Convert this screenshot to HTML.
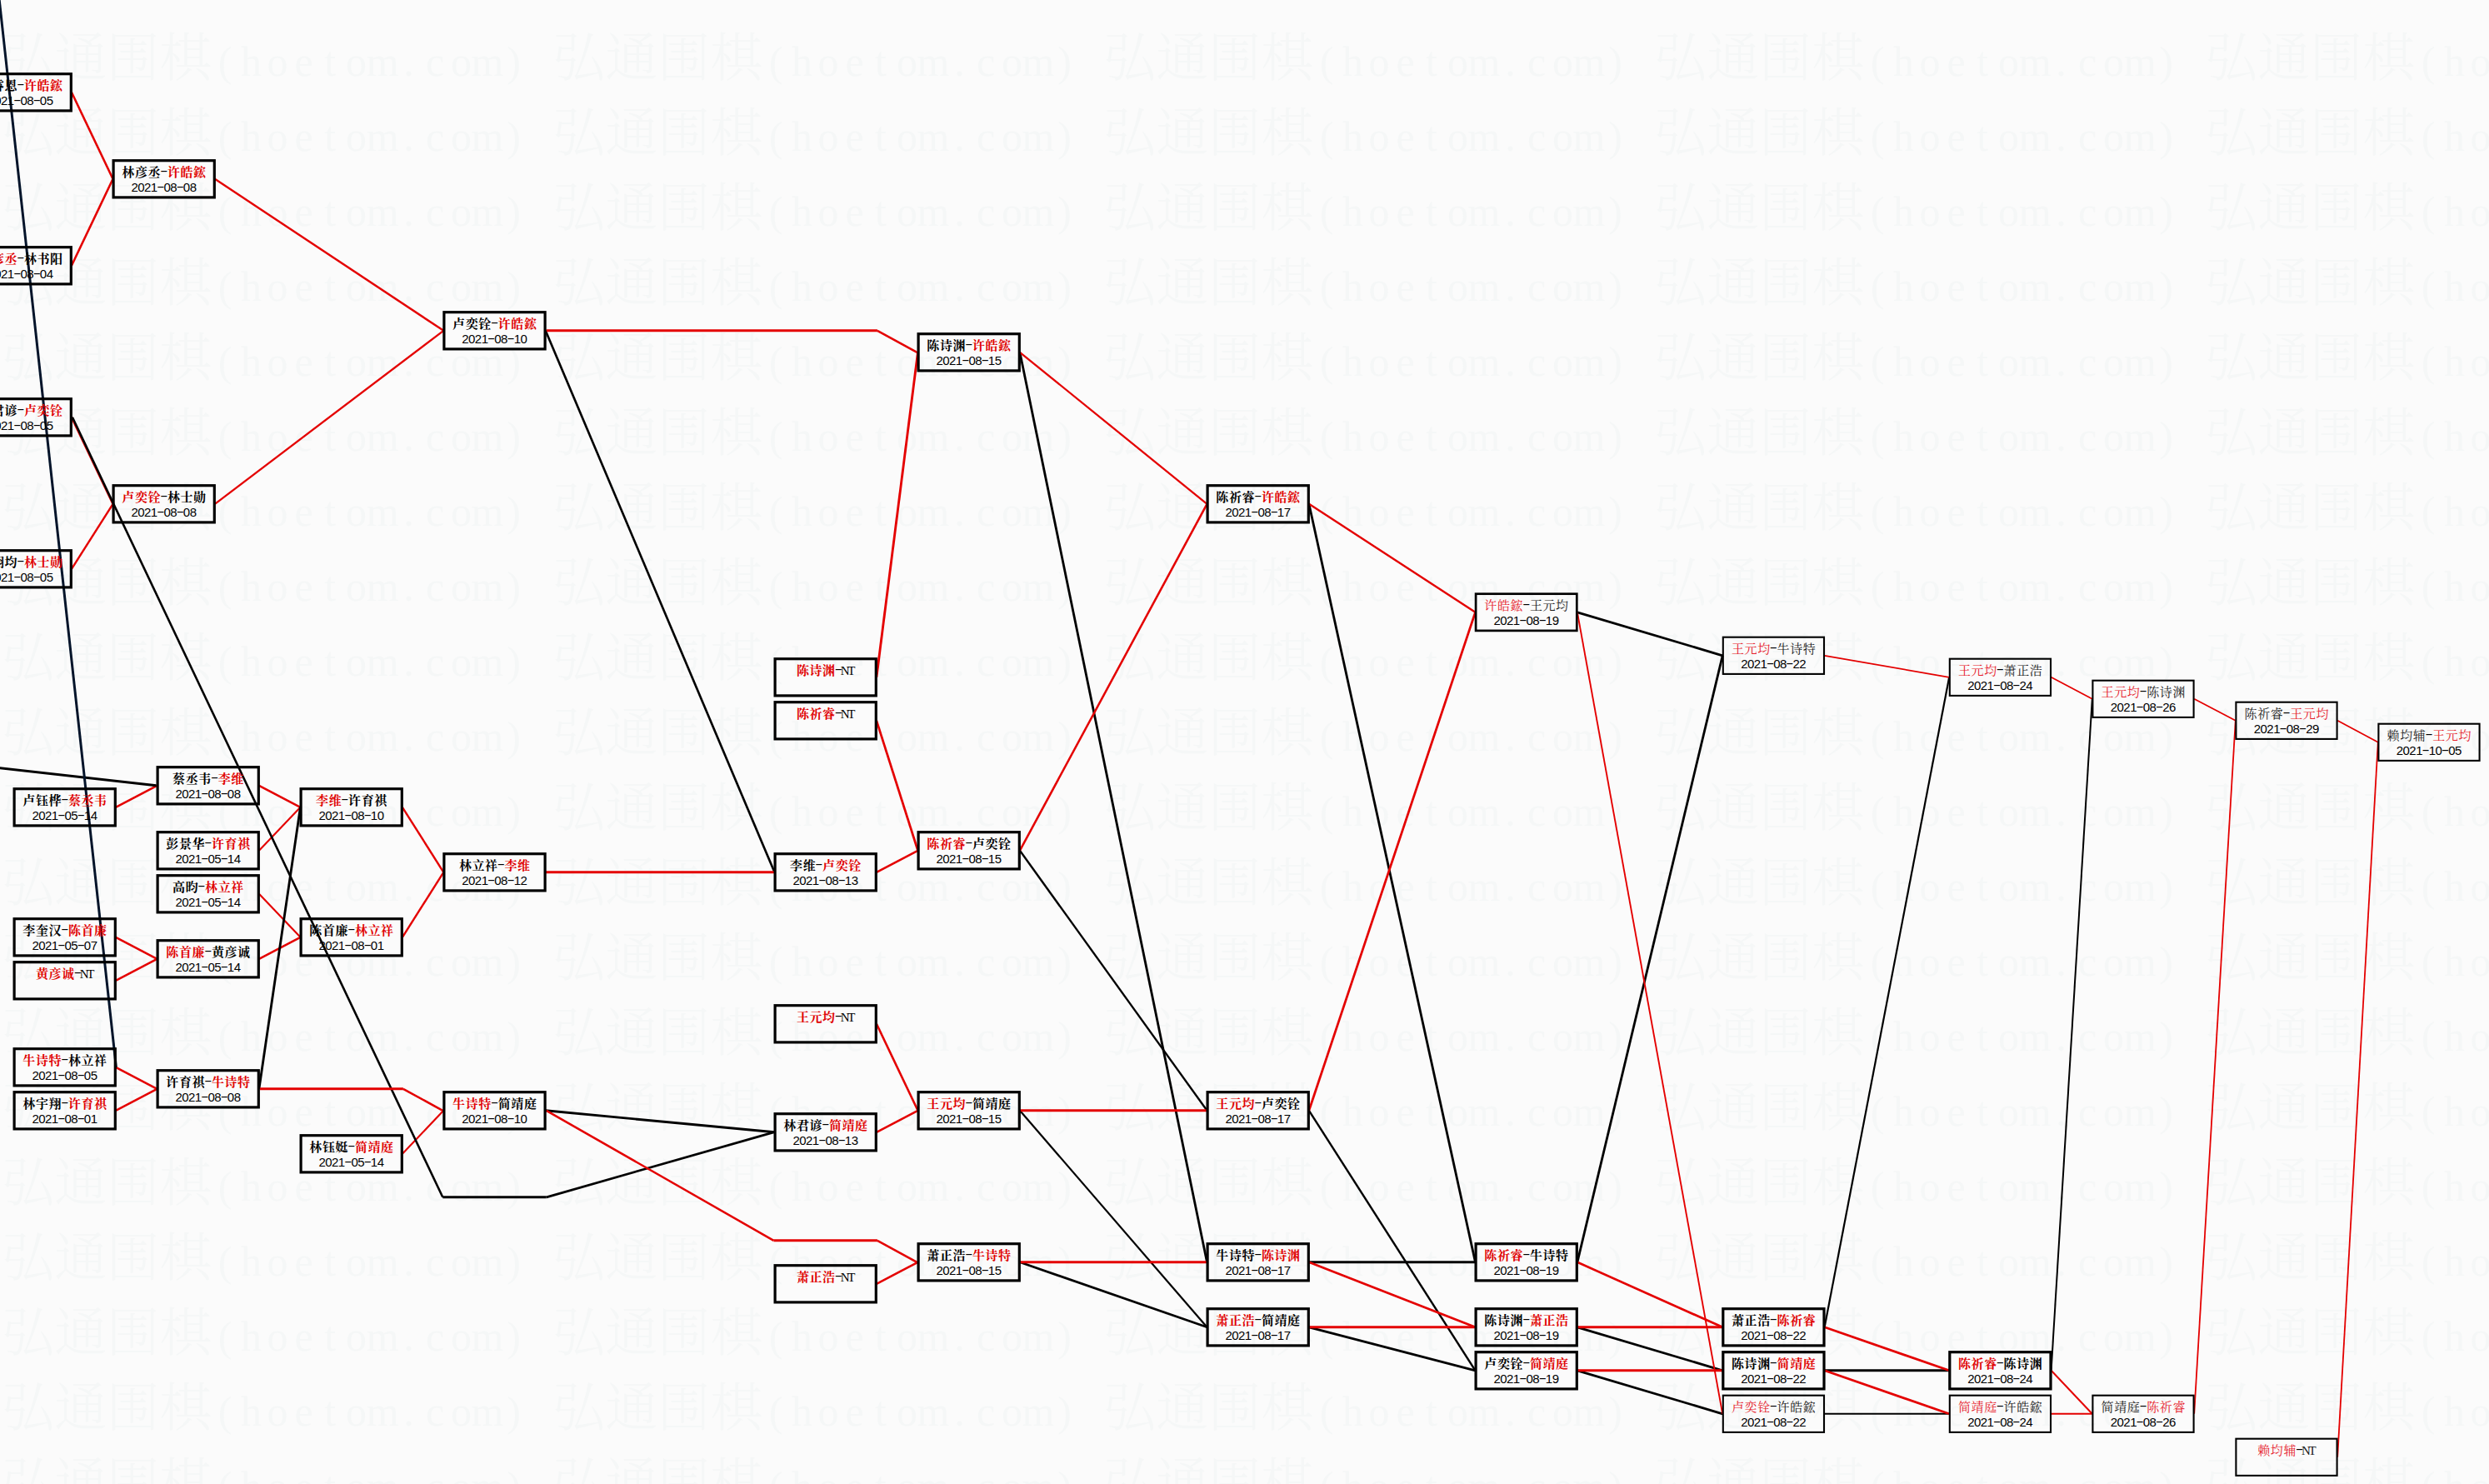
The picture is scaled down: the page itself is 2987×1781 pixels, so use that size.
<!DOCTYPE html>
<html lang="zh-CN"><head><meta charset="utf-8"><title>弘通围棋 对阵图</title>
<style>
html,body{margin:0;padding:0;background:#fbfbfb;}
body{width:2987px;height:1781px;overflow:hidden;}
svg{display:block;}
.wm{font-family:"Liberation Serif","Noto Serif CJK SC",serif;font-size:63px;font-weight:300;fill:#f5f7f7;text-anchor:middle;}
.wl{font-size:50px;font-weight:400;}
.hy{font-family:"Liberation Sans",sans-serif;font-weight:400;font-size:15.6px;text-anchor:middle;}
.nb{font-family:"Liberation Serif","Noto Serif CJK SC",serif;font-size:15px;font-weight:700;text-anchor:middle;}
.nr{font-family:"Liberation Serif","Noto Serif CJK SC",serif;font-size:15px;font-weight:400;text-anchor:middle;}
.dt{font-family:"Liberation Sans","Noto Sans CJK SC",sans-serif;font-size:15px;text-anchor:middle;}
.hw{text-anchor:middle;}
</style></head><body>
<svg width="2987" height="1781" viewBox="0 0 2987 1781">
<rect x="0" y="0" width="2987" height="1781" fill="#fbfbfb"/>
<g class="wm">
<text y="91.0"><tspan x="33.8 96.8 159.8 222.8">弘通围棋</tspan><tspan class="wl" x="270.1 301.6 333.1 364.6 396.1 427.6 459.1 490.6 522.0 553.5 585.0 616.5">(hoetom.com)</tspan></text>
<text y="91.0"><tspan x="694.8 757.8 820.8 883.8">弘通围棋</tspan><tspan class="wl" x="931.0 962.5 994.0 1025.5 1057.0 1088.5 1120.0 1151.5 1183.0 1214.5 1246.0 1277.5">(hoetom.com)</tspan></text>
<text y="91.0"><tspan x="1355.8 1418.8 1481.8 1544.8">弘通围棋</tspan><tspan class="wl" x="1592.0 1623.5 1655.0 1686.5 1718.0 1749.5 1781.0 1812.5 1844.0 1875.5 1907.0 1938.5">(hoetom.com)</tspan></text>
<text y="91.0"><tspan x="2016.8 2079.8 2142.8 2205.8">弘通围棋</tspan><tspan class="wl" x="2253.1 2284.6 2316.1 2347.6 2379.1 2410.6 2442.1 2473.6 2505.1 2536.6 2568.1 2599.6">(hoetom.com)</tspan></text>
<text y="91.0"><tspan x="2677.8 2740.8 2803.8 2866.8">弘通围棋</tspan><tspan class="wl" x="2914.1 2945.6 2977.1 3008.6 3040.1 3071.6 3103.1 3134.6 3166.1 3197.6 3229.1 3260.6">(hoetom.com)</tspan></text>
<text y="181.0"><tspan x="33.8 96.8 159.8 222.8">弘通围棋</tspan><tspan class="wl" x="270.1 301.6 333.1 364.6 396.1 427.6 459.1 490.6 522.0 553.5 585.0 616.5">(hoetom.com)</tspan></text>
<text y="181.0"><tspan x="694.8 757.8 820.8 883.8">弘通围棋</tspan><tspan class="wl" x="931.0 962.5 994.0 1025.5 1057.0 1088.5 1120.0 1151.5 1183.0 1214.5 1246.0 1277.5">(hoetom.com)</tspan></text>
<text y="181.0"><tspan x="1355.8 1418.8 1481.8 1544.8">弘通围棋</tspan><tspan class="wl" x="1592.0 1623.5 1655.0 1686.5 1718.0 1749.5 1781.0 1812.5 1844.0 1875.5 1907.0 1938.5">(hoetom.com)</tspan></text>
<text y="181.0"><tspan x="2016.8 2079.8 2142.8 2205.8">弘通围棋</tspan><tspan class="wl" x="2253.1 2284.6 2316.1 2347.6 2379.1 2410.6 2442.1 2473.6 2505.1 2536.6 2568.1 2599.6">(hoetom.com)</tspan></text>
<text y="181.0"><tspan x="2677.8 2740.8 2803.8 2866.8">弘通围棋</tspan><tspan class="wl" x="2914.1 2945.6 2977.1 3008.6 3040.1 3071.6 3103.1 3134.6 3166.1 3197.6 3229.1 3260.6">(hoetom.com)</tspan></text>
<text y="271.0"><tspan x="33.8 96.8 159.8 222.8">弘通围棋</tspan><tspan class="wl" x="270.1 301.6 333.1 364.6 396.1 427.6 459.1 490.6 522.0 553.5 585.0 616.5">(hoetom.com)</tspan></text>
<text y="271.0"><tspan x="694.8 757.8 820.8 883.8">弘通围棋</tspan><tspan class="wl" x="931.0 962.5 994.0 1025.5 1057.0 1088.5 1120.0 1151.5 1183.0 1214.5 1246.0 1277.5">(hoetom.com)</tspan></text>
<text y="271.0"><tspan x="1355.8 1418.8 1481.8 1544.8">弘通围棋</tspan><tspan class="wl" x="1592.0 1623.5 1655.0 1686.5 1718.0 1749.5 1781.0 1812.5 1844.0 1875.5 1907.0 1938.5">(hoetom.com)</tspan></text>
<text y="271.0"><tspan x="2016.8 2079.8 2142.8 2205.8">弘通围棋</tspan><tspan class="wl" x="2253.1 2284.6 2316.1 2347.6 2379.1 2410.6 2442.1 2473.6 2505.1 2536.6 2568.1 2599.6">(hoetom.com)</tspan></text>
<text y="271.0"><tspan x="2677.8 2740.8 2803.8 2866.8">弘通围棋</tspan><tspan class="wl" x="2914.1 2945.6 2977.1 3008.6 3040.1 3071.6 3103.1 3134.6 3166.1 3197.6 3229.1 3260.6">(hoetom.com)</tspan></text>
<text y="361.0"><tspan x="33.8 96.8 159.8 222.8">弘通围棋</tspan><tspan class="wl" x="270.1 301.6 333.1 364.6 396.1 427.6 459.1 490.6 522.0 553.5 585.0 616.5">(hoetom.com)</tspan></text>
<text y="361.0"><tspan x="694.8 757.8 820.8 883.8">弘通围棋</tspan><tspan class="wl" x="931.0 962.5 994.0 1025.5 1057.0 1088.5 1120.0 1151.5 1183.0 1214.5 1246.0 1277.5">(hoetom.com)</tspan></text>
<text y="361.0"><tspan x="1355.8 1418.8 1481.8 1544.8">弘通围棋</tspan><tspan class="wl" x="1592.0 1623.5 1655.0 1686.5 1718.0 1749.5 1781.0 1812.5 1844.0 1875.5 1907.0 1938.5">(hoetom.com)</tspan></text>
<text y="361.0"><tspan x="2016.8 2079.8 2142.8 2205.8">弘通围棋</tspan><tspan class="wl" x="2253.1 2284.6 2316.1 2347.6 2379.1 2410.6 2442.1 2473.6 2505.1 2536.6 2568.1 2599.6">(hoetom.com)</tspan></text>
<text y="361.0"><tspan x="2677.8 2740.8 2803.8 2866.8">弘通围棋</tspan><tspan class="wl" x="2914.1 2945.6 2977.1 3008.6 3040.1 3071.6 3103.1 3134.6 3166.1 3197.6 3229.1 3260.6">(hoetom.com)</tspan></text>
<text y="451.0"><tspan x="33.8 96.8 159.8 222.8">弘通围棋</tspan><tspan class="wl" x="270.1 301.6 333.1 364.6 396.1 427.6 459.1 490.6 522.0 553.5 585.0 616.5">(hoetom.com)</tspan></text>
<text y="451.0"><tspan x="694.8 757.8 820.8 883.8">弘通围棋</tspan><tspan class="wl" x="931.0 962.5 994.0 1025.5 1057.0 1088.5 1120.0 1151.5 1183.0 1214.5 1246.0 1277.5">(hoetom.com)</tspan></text>
<text y="451.0"><tspan x="1355.8 1418.8 1481.8 1544.8">弘通围棋</tspan><tspan class="wl" x="1592.0 1623.5 1655.0 1686.5 1718.0 1749.5 1781.0 1812.5 1844.0 1875.5 1907.0 1938.5">(hoetom.com)</tspan></text>
<text y="451.0"><tspan x="2016.8 2079.8 2142.8 2205.8">弘通围棋</tspan><tspan class="wl" x="2253.1 2284.6 2316.1 2347.6 2379.1 2410.6 2442.1 2473.6 2505.1 2536.6 2568.1 2599.6">(hoetom.com)</tspan></text>
<text y="451.0"><tspan x="2677.8 2740.8 2803.8 2866.8">弘通围棋</tspan><tspan class="wl" x="2914.1 2945.6 2977.1 3008.6 3040.1 3071.6 3103.1 3134.6 3166.1 3197.6 3229.1 3260.6">(hoetom.com)</tspan></text>
<text y="541.0"><tspan x="33.8 96.8 159.8 222.8">弘通围棋</tspan><tspan class="wl" x="270.1 301.6 333.1 364.6 396.1 427.6 459.1 490.6 522.0 553.5 585.0 616.5">(hoetom.com)</tspan></text>
<text y="541.0"><tspan x="694.8 757.8 820.8 883.8">弘通围棋</tspan><tspan class="wl" x="931.0 962.5 994.0 1025.5 1057.0 1088.5 1120.0 1151.5 1183.0 1214.5 1246.0 1277.5">(hoetom.com)</tspan></text>
<text y="541.0"><tspan x="1355.8 1418.8 1481.8 1544.8">弘通围棋</tspan><tspan class="wl" x="1592.0 1623.5 1655.0 1686.5 1718.0 1749.5 1781.0 1812.5 1844.0 1875.5 1907.0 1938.5">(hoetom.com)</tspan></text>
<text y="541.0"><tspan x="2016.8 2079.8 2142.8 2205.8">弘通围棋</tspan><tspan class="wl" x="2253.1 2284.6 2316.1 2347.6 2379.1 2410.6 2442.1 2473.6 2505.1 2536.6 2568.1 2599.6">(hoetom.com)</tspan></text>
<text y="541.0"><tspan x="2677.8 2740.8 2803.8 2866.8">弘通围棋</tspan><tspan class="wl" x="2914.1 2945.6 2977.1 3008.6 3040.1 3071.6 3103.1 3134.6 3166.1 3197.6 3229.1 3260.6">(hoetom.com)</tspan></text>
<text y="631.0"><tspan x="33.8 96.8 159.8 222.8">弘通围棋</tspan><tspan class="wl" x="270.1 301.6 333.1 364.6 396.1 427.6 459.1 490.6 522.0 553.5 585.0 616.5">(hoetom.com)</tspan></text>
<text y="631.0"><tspan x="694.8 757.8 820.8 883.8">弘通围棋</tspan><tspan class="wl" x="931.0 962.5 994.0 1025.5 1057.0 1088.5 1120.0 1151.5 1183.0 1214.5 1246.0 1277.5">(hoetom.com)</tspan></text>
<text y="631.0"><tspan x="1355.8 1418.8 1481.8 1544.8">弘通围棋</tspan><tspan class="wl" x="1592.0 1623.5 1655.0 1686.5 1718.0 1749.5 1781.0 1812.5 1844.0 1875.5 1907.0 1938.5">(hoetom.com)</tspan></text>
<text y="631.0"><tspan x="2016.8 2079.8 2142.8 2205.8">弘通围棋</tspan><tspan class="wl" x="2253.1 2284.6 2316.1 2347.6 2379.1 2410.6 2442.1 2473.6 2505.1 2536.6 2568.1 2599.6">(hoetom.com)</tspan></text>
<text y="631.0"><tspan x="2677.8 2740.8 2803.8 2866.8">弘通围棋</tspan><tspan class="wl" x="2914.1 2945.6 2977.1 3008.6 3040.1 3071.6 3103.1 3134.6 3166.1 3197.6 3229.1 3260.6">(hoetom.com)</tspan></text>
<text y="721.0"><tspan x="33.8 96.8 159.8 222.8">弘通围棋</tspan><tspan class="wl" x="270.1 301.6 333.1 364.6 396.1 427.6 459.1 490.6 522.0 553.5 585.0 616.5">(hoetom.com)</tspan></text>
<text y="721.0"><tspan x="694.8 757.8 820.8 883.8">弘通围棋</tspan><tspan class="wl" x="931.0 962.5 994.0 1025.5 1057.0 1088.5 1120.0 1151.5 1183.0 1214.5 1246.0 1277.5">(hoetom.com)</tspan></text>
<text y="721.0"><tspan x="1355.8 1418.8 1481.8 1544.8">弘通围棋</tspan><tspan class="wl" x="1592.0 1623.5 1655.0 1686.5 1718.0 1749.5 1781.0 1812.5 1844.0 1875.5 1907.0 1938.5">(hoetom.com)</tspan></text>
<text y="721.0"><tspan x="2016.8 2079.8 2142.8 2205.8">弘通围棋</tspan><tspan class="wl" x="2253.1 2284.6 2316.1 2347.6 2379.1 2410.6 2442.1 2473.6 2505.1 2536.6 2568.1 2599.6">(hoetom.com)</tspan></text>
<text y="721.0"><tspan x="2677.8 2740.8 2803.8 2866.8">弘通围棋</tspan><tspan class="wl" x="2914.1 2945.6 2977.1 3008.6 3040.1 3071.6 3103.1 3134.6 3166.1 3197.6 3229.1 3260.6">(hoetom.com)</tspan></text>
<text y="811.0"><tspan x="33.8 96.8 159.8 222.8">弘通围棋</tspan><tspan class="wl" x="270.1 301.6 333.1 364.6 396.1 427.6 459.1 490.6 522.0 553.5 585.0 616.5">(hoetom.com)</tspan></text>
<text y="811.0"><tspan x="694.8 757.8 820.8 883.8">弘通围棋</tspan><tspan class="wl" x="931.0 962.5 994.0 1025.5 1057.0 1088.5 1120.0 1151.5 1183.0 1214.5 1246.0 1277.5">(hoetom.com)</tspan></text>
<text y="811.0"><tspan x="1355.8 1418.8 1481.8 1544.8">弘通围棋</tspan><tspan class="wl" x="1592.0 1623.5 1655.0 1686.5 1718.0 1749.5 1781.0 1812.5 1844.0 1875.5 1907.0 1938.5">(hoetom.com)</tspan></text>
<text y="811.0"><tspan x="2016.8 2079.8 2142.8 2205.8">弘通围棋</tspan><tspan class="wl" x="2253.1 2284.6 2316.1 2347.6 2379.1 2410.6 2442.1 2473.6 2505.1 2536.6 2568.1 2599.6">(hoetom.com)</tspan></text>
<text y="811.0"><tspan x="2677.8 2740.8 2803.8 2866.8">弘通围棋</tspan><tspan class="wl" x="2914.1 2945.6 2977.1 3008.6 3040.1 3071.6 3103.1 3134.6 3166.1 3197.6 3229.1 3260.6">(hoetom.com)</tspan></text>
<text y="901.0"><tspan x="33.8 96.8 159.8 222.8">弘通围棋</tspan><tspan class="wl" x="270.1 301.6 333.1 364.6 396.1 427.6 459.1 490.6 522.0 553.5 585.0 616.5">(hoetom.com)</tspan></text>
<text y="901.0"><tspan x="694.8 757.8 820.8 883.8">弘通围棋</tspan><tspan class="wl" x="931.0 962.5 994.0 1025.5 1057.0 1088.5 1120.0 1151.5 1183.0 1214.5 1246.0 1277.5">(hoetom.com)</tspan></text>
<text y="901.0"><tspan x="1355.8 1418.8 1481.8 1544.8">弘通围棋</tspan><tspan class="wl" x="1592.0 1623.5 1655.0 1686.5 1718.0 1749.5 1781.0 1812.5 1844.0 1875.5 1907.0 1938.5">(hoetom.com)</tspan></text>
<text y="901.0"><tspan x="2016.8 2079.8 2142.8 2205.8">弘通围棋</tspan><tspan class="wl" x="2253.1 2284.6 2316.1 2347.6 2379.1 2410.6 2442.1 2473.6 2505.1 2536.6 2568.1 2599.6">(hoetom.com)</tspan></text>
<text y="901.0"><tspan x="2677.8 2740.8 2803.8 2866.8">弘通围棋</tspan><tspan class="wl" x="2914.1 2945.6 2977.1 3008.6 3040.1 3071.6 3103.1 3134.6 3166.1 3197.6 3229.1 3260.6">(hoetom.com)</tspan></text>
<text y="991.0"><tspan x="33.8 96.8 159.8 222.8">弘通围棋</tspan><tspan class="wl" x="270.1 301.6 333.1 364.6 396.1 427.6 459.1 490.6 522.0 553.5 585.0 616.5">(hoetom.com)</tspan></text>
<text y="991.0"><tspan x="694.8 757.8 820.8 883.8">弘通围棋</tspan><tspan class="wl" x="931.0 962.5 994.0 1025.5 1057.0 1088.5 1120.0 1151.5 1183.0 1214.5 1246.0 1277.5">(hoetom.com)</tspan></text>
<text y="991.0"><tspan x="1355.8 1418.8 1481.8 1544.8">弘通围棋</tspan><tspan class="wl" x="1592.0 1623.5 1655.0 1686.5 1718.0 1749.5 1781.0 1812.5 1844.0 1875.5 1907.0 1938.5">(hoetom.com)</tspan></text>
<text y="991.0"><tspan x="2016.8 2079.8 2142.8 2205.8">弘通围棋</tspan><tspan class="wl" x="2253.1 2284.6 2316.1 2347.6 2379.1 2410.6 2442.1 2473.6 2505.1 2536.6 2568.1 2599.6">(hoetom.com)</tspan></text>
<text y="991.0"><tspan x="2677.8 2740.8 2803.8 2866.8">弘通围棋</tspan><tspan class="wl" x="2914.1 2945.6 2977.1 3008.6 3040.1 3071.6 3103.1 3134.6 3166.1 3197.6 3229.1 3260.6">(hoetom.com)</tspan></text>
<text y="1081.0"><tspan x="33.8 96.8 159.8 222.8">弘通围棋</tspan><tspan class="wl" x="270.1 301.6 333.1 364.6 396.1 427.6 459.1 490.6 522.0 553.5 585.0 616.5">(hoetom.com)</tspan></text>
<text y="1081.0"><tspan x="694.8 757.8 820.8 883.8">弘通围棋</tspan><tspan class="wl" x="931.0 962.5 994.0 1025.5 1057.0 1088.5 1120.0 1151.5 1183.0 1214.5 1246.0 1277.5">(hoetom.com)</tspan></text>
<text y="1081.0"><tspan x="1355.8 1418.8 1481.8 1544.8">弘通围棋</tspan><tspan class="wl" x="1592.0 1623.5 1655.0 1686.5 1718.0 1749.5 1781.0 1812.5 1844.0 1875.5 1907.0 1938.5">(hoetom.com)</tspan></text>
<text y="1081.0"><tspan x="2016.8 2079.8 2142.8 2205.8">弘通围棋</tspan><tspan class="wl" x="2253.1 2284.6 2316.1 2347.6 2379.1 2410.6 2442.1 2473.6 2505.1 2536.6 2568.1 2599.6">(hoetom.com)</tspan></text>
<text y="1081.0"><tspan x="2677.8 2740.8 2803.8 2866.8">弘通围棋</tspan><tspan class="wl" x="2914.1 2945.6 2977.1 3008.6 3040.1 3071.6 3103.1 3134.6 3166.1 3197.6 3229.1 3260.6">(hoetom.com)</tspan></text>
<text y="1171.0"><tspan x="33.8 96.8 159.8 222.8">弘通围棋</tspan><tspan class="wl" x="270.1 301.6 333.1 364.6 396.1 427.6 459.1 490.6 522.0 553.5 585.0 616.5">(hoetom.com)</tspan></text>
<text y="1171.0"><tspan x="694.8 757.8 820.8 883.8">弘通围棋</tspan><tspan class="wl" x="931.0 962.5 994.0 1025.5 1057.0 1088.5 1120.0 1151.5 1183.0 1214.5 1246.0 1277.5">(hoetom.com)</tspan></text>
<text y="1171.0"><tspan x="1355.8 1418.8 1481.8 1544.8">弘通围棋</tspan><tspan class="wl" x="1592.0 1623.5 1655.0 1686.5 1718.0 1749.5 1781.0 1812.5 1844.0 1875.5 1907.0 1938.5">(hoetom.com)</tspan></text>
<text y="1171.0"><tspan x="2016.8 2079.8 2142.8 2205.8">弘通围棋</tspan><tspan class="wl" x="2253.1 2284.6 2316.1 2347.6 2379.1 2410.6 2442.1 2473.6 2505.1 2536.6 2568.1 2599.6">(hoetom.com)</tspan></text>
<text y="1171.0"><tspan x="2677.8 2740.8 2803.8 2866.8">弘通围棋</tspan><tspan class="wl" x="2914.1 2945.6 2977.1 3008.6 3040.1 3071.6 3103.1 3134.6 3166.1 3197.6 3229.1 3260.6">(hoetom.com)</tspan></text>
<text y="1261.0"><tspan x="33.8 96.8 159.8 222.8">弘通围棋</tspan><tspan class="wl" x="270.1 301.6 333.1 364.6 396.1 427.6 459.1 490.6 522.0 553.5 585.0 616.5">(hoetom.com)</tspan></text>
<text y="1261.0"><tspan x="694.8 757.8 820.8 883.8">弘通围棋</tspan><tspan class="wl" x="931.0 962.5 994.0 1025.5 1057.0 1088.5 1120.0 1151.5 1183.0 1214.5 1246.0 1277.5">(hoetom.com)</tspan></text>
<text y="1261.0"><tspan x="1355.8 1418.8 1481.8 1544.8">弘通围棋</tspan><tspan class="wl" x="1592.0 1623.5 1655.0 1686.5 1718.0 1749.5 1781.0 1812.5 1844.0 1875.5 1907.0 1938.5">(hoetom.com)</tspan></text>
<text y="1261.0"><tspan x="2016.8 2079.8 2142.8 2205.8">弘通围棋</tspan><tspan class="wl" x="2253.1 2284.6 2316.1 2347.6 2379.1 2410.6 2442.1 2473.6 2505.1 2536.6 2568.1 2599.6">(hoetom.com)</tspan></text>
<text y="1261.0"><tspan x="2677.8 2740.8 2803.8 2866.8">弘通围棋</tspan><tspan class="wl" x="2914.1 2945.6 2977.1 3008.6 3040.1 3071.6 3103.1 3134.6 3166.1 3197.6 3229.1 3260.6">(hoetom.com)</tspan></text>
<text y="1351.0"><tspan x="33.8 96.8 159.8 222.8">弘通围棋</tspan><tspan class="wl" x="270.1 301.6 333.1 364.6 396.1 427.6 459.1 490.6 522.0 553.5 585.0 616.5">(hoetom.com)</tspan></text>
<text y="1351.0"><tspan x="694.8 757.8 820.8 883.8">弘通围棋</tspan><tspan class="wl" x="931.0 962.5 994.0 1025.5 1057.0 1088.5 1120.0 1151.5 1183.0 1214.5 1246.0 1277.5">(hoetom.com)</tspan></text>
<text y="1351.0"><tspan x="1355.8 1418.8 1481.8 1544.8">弘通围棋</tspan><tspan class="wl" x="1592.0 1623.5 1655.0 1686.5 1718.0 1749.5 1781.0 1812.5 1844.0 1875.5 1907.0 1938.5">(hoetom.com)</tspan></text>
<text y="1351.0"><tspan x="2016.8 2079.8 2142.8 2205.8">弘通围棋</tspan><tspan class="wl" x="2253.1 2284.6 2316.1 2347.6 2379.1 2410.6 2442.1 2473.6 2505.1 2536.6 2568.1 2599.6">(hoetom.com)</tspan></text>
<text y="1351.0"><tspan x="2677.8 2740.8 2803.8 2866.8">弘通围棋</tspan><tspan class="wl" x="2914.1 2945.6 2977.1 3008.6 3040.1 3071.6 3103.1 3134.6 3166.1 3197.6 3229.1 3260.6">(hoetom.com)</tspan></text>
<text y="1441.0"><tspan x="33.8 96.8 159.8 222.8">弘通围棋</tspan><tspan class="wl" x="270.1 301.6 333.1 364.6 396.1 427.6 459.1 490.6 522.0 553.5 585.0 616.5">(hoetom.com)</tspan></text>
<text y="1441.0"><tspan x="694.8 757.8 820.8 883.8">弘通围棋</tspan><tspan class="wl" x="931.0 962.5 994.0 1025.5 1057.0 1088.5 1120.0 1151.5 1183.0 1214.5 1246.0 1277.5">(hoetom.com)</tspan></text>
<text y="1441.0"><tspan x="1355.8 1418.8 1481.8 1544.8">弘通围棋</tspan><tspan class="wl" x="1592.0 1623.5 1655.0 1686.5 1718.0 1749.5 1781.0 1812.5 1844.0 1875.5 1907.0 1938.5">(hoetom.com)</tspan></text>
<text y="1441.0"><tspan x="2016.8 2079.8 2142.8 2205.8">弘通围棋</tspan><tspan class="wl" x="2253.1 2284.6 2316.1 2347.6 2379.1 2410.6 2442.1 2473.6 2505.1 2536.6 2568.1 2599.6">(hoetom.com)</tspan></text>
<text y="1441.0"><tspan x="2677.8 2740.8 2803.8 2866.8">弘通围棋</tspan><tspan class="wl" x="2914.1 2945.6 2977.1 3008.6 3040.1 3071.6 3103.1 3134.6 3166.1 3197.6 3229.1 3260.6">(hoetom.com)</tspan></text>
<text y="1531.0"><tspan x="33.8 96.8 159.8 222.8">弘通围棋</tspan><tspan class="wl" x="270.1 301.6 333.1 364.6 396.1 427.6 459.1 490.6 522.0 553.5 585.0 616.5">(hoetom.com)</tspan></text>
<text y="1531.0"><tspan x="694.8 757.8 820.8 883.8">弘通围棋</tspan><tspan class="wl" x="931.0 962.5 994.0 1025.5 1057.0 1088.5 1120.0 1151.5 1183.0 1214.5 1246.0 1277.5">(hoetom.com)</tspan></text>
<text y="1531.0"><tspan x="1355.8 1418.8 1481.8 1544.8">弘通围棋</tspan><tspan class="wl" x="1592.0 1623.5 1655.0 1686.5 1718.0 1749.5 1781.0 1812.5 1844.0 1875.5 1907.0 1938.5">(hoetom.com)</tspan></text>
<text y="1531.0"><tspan x="2016.8 2079.8 2142.8 2205.8">弘通围棋</tspan><tspan class="wl" x="2253.1 2284.6 2316.1 2347.6 2379.1 2410.6 2442.1 2473.6 2505.1 2536.6 2568.1 2599.6">(hoetom.com)</tspan></text>
<text y="1531.0"><tspan x="2677.8 2740.8 2803.8 2866.8">弘通围棋</tspan><tspan class="wl" x="2914.1 2945.6 2977.1 3008.6 3040.1 3071.6 3103.1 3134.6 3166.1 3197.6 3229.1 3260.6">(hoetom.com)</tspan></text>
<text y="1621.0"><tspan x="33.8 96.8 159.8 222.8">弘通围棋</tspan><tspan class="wl" x="270.1 301.6 333.1 364.6 396.1 427.6 459.1 490.6 522.0 553.5 585.0 616.5">(hoetom.com)</tspan></text>
<text y="1621.0"><tspan x="694.8 757.8 820.8 883.8">弘通围棋</tspan><tspan class="wl" x="931.0 962.5 994.0 1025.5 1057.0 1088.5 1120.0 1151.5 1183.0 1214.5 1246.0 1277.5">(hoetom.com)</tspan></text>
<text y="1621.0"><tspan x="1355.8 1418.8 1481.8 1544.8">弘通围棋</tspan><tspan class="wl" x="1592.0 1623.5 1655.0 1686.5 1718.0 1749.5 1781.0 1812.5 1844.0 1875.5 1907.0 1938.5">(hoetom.com)</tspan></text>
<text y="1621.0"><tspan x="2016.8 2079.8 2142.8 2205.8">弘通围棋</tspan><tspan class="wl" x="2253.1 2284.6 2316.1 2347.6 2379.1 2410.6 2442.1 2473.6 2505.1 2536.6 2568.1 2599.6">(hoetom.com)</tspan></text>
<text y="1621.0"><tspan x="2677.8 2740.8 2803.8 2866.8">弘通围棋</tspan><tspan class="wl" x="2914.1 2945.6 2977.1 3008.6 3040.1 3071.6 3103.1 3134.6 3166.1 3197.6 3229.1 3260.6">(hoetom.com)</tspan></text>
<text y="1711.0"><tspan x="33.8 96.8 159.8 222.8">弘通围棋</tspan><tspan class="wl" x="270.1 301.6 333.1 364.6 396.1 427.6 459.1 490.6 522.0 553.5 585.0 616.5">(hoetom.com)</tspan></text>
<text y="1711.0"><tspan x="694.8 757.8 820.8 883.8">弘通围棋</tspan><tspan class="wl" x="931.0 962.5 994.0 1025.5 1057.0 1088.5 1120.0 1151.5 1183.0 1214.5 1246.0 1277.5">(hoetom.com)</tspan></text>
<text y="1711.0"><tspan x="1355.8 1418.8 1481.8 1544.8">弘通围棋</tspan><tspan class="wl" x="1592.0 1623.5 1655.0 1686.5 1718.0 1749.5 1781.0 1812.5 1844.0 1875.5 1907.0 1938.5">(hoetom.com)</tspan></text>
<text y="1711.0"><tspan x="2016.8 2079.8 2142.8 2205.8">弘通围棋</tspan><tspan class="wl" x="2253.1 2284.6 2316.1 2347.6 2379.1 2410.6 2442.1 2473.6 2505.1 2536.6 2568.1 2599.6">(hoetom.com)</tspan></text>
<text y="1711.0"><tspan x="2677.8 2740.8 2803.8 2866.8">弘通围棋</tspan><tspan class="wl" x="2914.1 2945.6 2977.1 3008.6 3040.1 3071.6 3103.1 3134.6 3166.1 3197.6 3229.1 3260.6">(hoetom.com)</tspan></text>
<text y="1801.0"><tspan x="33.8 96.8 159.8 222.8">弘通围棋</tspan><tspan class="wl" x="270.1 301.6 333.1 364.6 396.1 427.6 459.1 490.6 522.0 553.5 585.0 616.5">(hoetom.com)</tspan></text>
<text y="1801.0"><tspan x="694.8 757.8 820.8 883.8">弘通围棋</tspan><tspan class="wl" x="931.0 962.5 994.0 1025.5 1057.0 1088.5 1120.0 1151.5 1183.0 1214.5 1246.0 1277.5">(hoetom.com)</tspan></text>
<text y="1801.0"><tspan x="1355.8 1418.8 1481.8 1544.8">弘通围棋</tspan><tspan class="wl" x="1592.0 1623.5 1655.0 1686.5 1718.0 1749.5 1781.0 1812.5 1844.0 1875.5 1907.0 1938.5">(hoetom.com)</tspan></text>
<text y="1801.0"><tspan x="2016.8 2079.8 2142.8 2205.8">弘通围棋</tspan><tspan class="wl" x="2253.1 2284.6 2316.1 2347.6 2379.1 2410.6 2442.1 2473.6 2505.1 2536.6 2568.1 2599.6">(hoetom.com)</tspan></text>
<text y="1801.0"><tspan x="2677.8 2740.8 2803.8 2866.8">弘通围棋</tspan><tspan class="wl" x="2914.1 2945.6 2977.1 3008.6 3040.1 3071.6 3103.1 3134.6 3166.1 3197.6 3229.1 3260.6">(hoetom.com)</tspan></text>
</g>
<g fill="none" stroke-linecap="butt" stroke-linejoin="miter">
<line x1="85.9" y1="110.8" x2="135.5" y2="214.8" stroke="#e40000" stroke-width="2.60"/>
<line x1="85.9" y1="318.8" x2="135.5" y2="214.8" stroke="#e40000" stroke-width="2.60"/>
<line x1="85.9" y1="500.8" x2="135.5" y2="604.8" stroke="#e40000" stroke-width="2.60"/>
<line x1="85.9" y1="682.8" x2="135.5" y2="604.8" stroke="#e40000" stroke-width="2.44"/>
<line x1="257.9" y1="214.8" x2="532.3" y2="396.8" stroke="#e40000" stroke-width="2.41"/>
<line x1="257.9" y1="604.8" x2="532.3" y2="396.8" stroke="#e40000" stroke-width="2.32"/>
<line x1="138.9" y1="968.8" x2="188.5" y2="942.8" stroke="#e40000" stroke-width="2.56"/>
<line x1="138.9" y1="1124.8" x2="188.5" y2="1150.8" stroke="#e40000" stroke-width="2.56"/>
<line x1="138.9" y1="1176.8" x2="188.5" y2="1150.8" stroke="#e40000" stroke-width="2.56"/>
<line x1="138.9" y1="1280.8" x2="188.5" y2="1306.8" stroke="#e40000" stroke-width="2.56"/>
<line x1="138.9" y1="1332.8" x2="188.5" y2="1306.8" stroke="#e40000" stroke-width="2.56"/>
<line x1="310.9" y1="942.8" x2="360.5" y2="968.8" stroke="#e40000" stroke-width="2.56"/>
<line x1="310.9" y1="1020.8" x2="360.5" y2="968.8" stroke="#e40000" stroke-width="2.14"/>
<line x1="310.9" y1="1072.8" x2="360.5" y2="1124.8" stroke="#e40000" stroke-width="2.14"/>
<line x1="310.9" y1="1150.8" x2="360.5" y2="1124.8" stroke="#e40000" stroke-width="2.56"/>
<line x1="310.9" y1="1306.8" x2="360.5" y2="968.8" stroke="#000000" stroke-width="2.87"/>
<line x1="482.9" y1="968.8" x2="532.3" y2="1046.8" stroke="#e40000" stroke-width="2.44"/>
<line x1="482.9" y1="1124.8" x2="532.3" y2="1046.8" stroke="#e40000" stroke-width="2.44"/>
<line x1="482.9" y1="1384.8" x2="532.3" y2="1332.8" stroke="#e40000" stroke-width="2.14"/>
<line x1="654.7" y1="396.8" x2="929.5" y2="1046.8" stroke="#000000" stroke-width="2.66"/>
<line x1="654.7" y1="1046.8" x2="929.5" y2="1046.8" stroke="#e40000" stroke-width="2.90"/>
<line x1="654.7" y1="1332.8" x2="929.5" y2="1358.8" stroke="#000000" stroke-width="2.89"/>
<line x1="1051.9" y1="812.8" x2="1101.5" y2="422.8" stroke="#e40000" stroke-width="2.87"/>
<line x1="1051.9" y1="864.8" x2="1101.5" y2="1020.8" stroke="#e40000" stroke-width="2.75"/>
<line x1="1051.9" y1="1046.8" x2="1101.5" y2="1020.8" stroke="#e40000" stroke-width="2.56"/>
<line x1="1051.9" y1="1228.8" x2="1101.5" y2="1332.8" stroke="#e40000" stroke-width="2.60"/>
<line x1="1051.9" y1="1358.8" x2="1101.5" y2="1332.8" stroke="#e40000" stroke-width="2.56"/>
<line x1="1051.9" y1="1540.8" x2="1101.5" y2="1514.8" stroke="#e40000" stroke-width="2.56"/>
<line x1="1223.9" y1="422.8" x2="1448.5" y2="1514.8" stroke="#000000" stroke-width="2.84"/>
<line x1="1223.9" y1="1020.8" x2="1448.5" y2="1332.8" stroke="#000000" stroke-width="2.36"/>
<line x1="1223.9" y1="1332.8" x2="1448.5" y2="1592.8" stroke="#000000" stroke-width="2.22"/>
<line x1="1223.9" y1="1514.8" x2="1448.5" y2="1592.8" stroke="#000000" stroke-width="2.73"/>
<line x1="1223.9" y1="422.8" x2="1448.5" y2="604.8" stroke="#e40000" stroke-width="2.27"/>
<line x1="1223.9" y1="1020.8" x2="1448.5" y2="604.8" stroke="#e40000" stroke-width="2.54"/>
<line x1="1223.9" y1="1332.8" x2="1448.5" y2="1332.8" stroke="#e40000" stroke-width="2.90"/>
<line x1="1223.9" y1="1514.8" x2="1448.5" y2="1514.8" stroke="#e40000" stroke-width="2.90"/>
<line x1="1570.9" y1="604.8" x2="1770.5" y2="1514.8" stroke="#000000" stroke-width="2.83"/>
<line x1="1570.9" y1="1332.8" x2="1770.5" y2="1644.8" stroke="#000000" stroke-width="2.44"/>
<line x1="1570.9" y1="1514.8" x2="1770.5" y2="1514.8" stroke="#000000" stroke-width="2.90"/>
<line x1="1570.9" y1="1592.8" x2="1770.5" y2="1644.8" stroke="#000000" stroke-width="2.80"/>
<line x1="1570.9" y1="604.8" x2="1770.5" y2="734.8" stroke="#e40000" stroke-width="2.42"/>
<line x1="1570.9" y1="1332.8" x2="1770.5" y2="734.8" stroke="#e40000" stroke-width="2.74"/>
<line x1="1570.9" y1="1514.8" x2="1770.5" y2="1592.8" stroke="#e40000" stroke-width="2.69"/>
<line x1="1570.9" y1="1592.8" x2="1770.5" y2="1592.8" stroke="#e40000" stroke-width="2.90"/>
<line x1="1892.9" y1="734.8" x2="2067.2" y2="786.8" stroke="#000000" stroke-width="2.77"/>
<line x1="1892.9" y1="1514.8" x2="2067.2" y2="786.8" stroke="#000000" stroke-width="2.81"/>
<line x1="1892.9" y1="1592.8" x2="2067.2" y2="1644.8" stroke="#000000" stroke-width="2.77"/>
<line x1="1892.9" y1="1644.8" x2="2067.2" y2="1696.8" stroke="#000000" stroke-width="2.77"/>
<line x1="1892.9" y1="734.8" x2="2067.2" y2="1696.8" stroke="#e40000" stroke-width="1.90"/>
<line x1="1892.9" y1="1514.8" x2="2067.2" y2="1592.8" stroke="#e40000" stroke-width="2.63"/>
<line x1="1892.9" y1="1592.8" x2="2067.2" y2="1592.8" stroke="#e40000" stroke-width="2.90"/>
<line x1="1892.9" y1="1644.8" x2="2067.2" y2="1644.8" stroke="#e40000" stroke-width="2.90"/>
<line x1="2189.6" y1="1592.8" x2="2339.2" y2="812.8" stroke="#000000" stroke-width="2.20"/>
<line x1="2189.6" y1="1644.8" x2="2339.2" y2="1644.8" stroke="#000000" stroke-width="2.90"/>
<line x1="2189.6" y1="1696.8" x2="2339.2" y2="1696.8" stroke="#000000" stroke-width="1.90"/>
<line x1="2189.6" y1="786.8" x2="2339.2" y2="812.8" stroke="#e40000" stroke-width="1.80"/>
<line x1="2189.6" y1="1592.8" x2="2339.2" y2="1644.8" stroke="#e40000" stroke-width="2.73"/>
<line x1="2189.6" y1="1644.8" x2="2339.2" y2="1696.8" stroke="#e40000" stroke-width="2.73"/>
<line x1="2461.6" y1="1644.8" x2="2510.8" y2="838.8" stroke="#000000" stroke-width="2.00"/>
<line x1="2461.6" y1="812.8" x2="2510.8" y2="838.8" stroke="#e40000" stroke-width="1.80"/>
<line x1="2461.6" y1="1644.8" x2="2510.8" y2="1696.8" stroke="#e40000" stroke-width="2.00"/>
<line x1="2461.6" y1="1696.8" x2="2510.8" y2="1696.8" stroke="#e40000" stroke-width="1.90"/>
<line x1="2633.2" y1="838.8" x2="2682.8" y2="864.8" stroke="#e40000" stroke-width="1.80"/>
<line x1="2633.2" y1="1696.8" x2="2682.8" y2="864.8" stroke="#e40000" stroke-width="1.80"/>
<line x1="2805.2" y1="864.8" x2="2853.8" y2="890.8" stroke="#e40000" stroke-width="1.80"/>
<line x1="2805.2" y1="1748.8" x2="2853.8" y2="890.8" stroke="#e40000" stroke-width="1.80"/>
<line x1="86.9" y1="500.8" x2="531.3" y2="1436.8" stroke="#000000" stroke-width="2.61"/>
<line x1="531.3" y1="1436.8" x2="655.7" y2="1436.8" stroke="#000000" stroke-width="2.90"/>
<line x1="655.7" y1="1436.8" x2="928.5" y2="1358.8" stroke="#000000" stroke-width="2.78"/>
<line x1="311.9" y1="1306.8" x2="483.9" y2="1306.8" stroke="#e40000" stroke-width="2.90"/>
<line x1="483.9" y1="1306.8" x2="531.3" y2="1332.8" stroke="#e40000" stroke-width="2.53"/>
<line x1="655.7" y1="396.8" x2="1052.9" y2="396.8" stroke="#e40000" stroke-width="2.90"/>
<line x1="1052.9" y1="396.8" x2="1100.5" y2="422.8" stroke="#e40000" stroke-width="2.53"/>
<line x1="655.7" y1="1332.8" x2="928.5" y2="1488.8" stroke="#e40000" stroke-width="2.51"/>
<line x1="928.5" y1="1488.8" x2="1052.9" y2="1488.8" stroke="#e40000" stroke-width="2.90"/>
<line x1="1052.9" y1="1488.8" x2="1100.5" y2="1514.8" stroke="#e40000" stroke-width="2.53"/>
<line x1="-2.0" y1="921.6" x2="187.5" y2="942.8" stroke="#000000" stroke-width="2.88"/>
<line x1="-0.9" y1="-1.0" x2="139.4" y2="1280.8" stroke="#04142a" stroke-width="3.0"/>
</g>
<rect x="-35.9" y="88.7" width="121.2" height="44.2" fill="none" stroke="#000" stroke-width="3.2"/>
<text class="nb" y="107.7"><tspan x="-18.2 -2.6 13.0" fill="#000">游睿恩</tspan><tspan x="36.4 52.0 67.6" fill="#e00000">许皓鋐</tspan></text>
<text class="dt" y="125.9" fill="#000"><tspan x="-10.4 -2.6 5.2 13.0">2021</tspan><tspan x="28.6 36.4">08</tspan><tspan x="52.0 59.8">05</tspan></text>
<text class="hy" transform="translate(24.7,106.4) scale(1.85,0.9)">-</text>
<text class="hy" transform="translate(20.8,125.2) scale(1.85,0.9)">-</text>
<text class="hy" transform="translate(44.2,125.2) scale(1.85,0.9)">-</text>
<rect x="-35.9" y="296.7" width="121.2" height="44.2" fill="none" stroke="#000" stroke-width="3.2"/>
<text class="nb" y="315.7"><tspan x="-18.2 -2.6 13.0" fill="#e00000">林彦丞</tspan><tspan x="36.4 52.0 67.6" fill="#000">林书阳</tspan></text>
<text class="dt" y="333.9" fill="#000"><tspan x="-10.4 -2.6 5.2 13.0">2021</tspan><tspan x="28.6 36.4">08</tspan><tspan x="52.0 59.8">04</tspan></text>
<text class="hy" transform="translate(24.7,314.4) scale(1.85,0.9)">-</text>
<text class="hy" transform="translate(20.8,333.2) scale(1.85,0.9)">-</text>
<text class="hy" transform="translate(44.2,333.2) scale(1.85,0.9)">-</text>
<rect x="-35.9" y="478.7" width="121.2" height="44.2" fill="none" stroke="#000" stroke-width="3.2"/>
<text class="nb" y="497.7"><tspan x="-18.2 -2.6 13.0" fill="#000">林君谚</tspan><tspan x="36.4 52.0 67.6" fill="#e00000">卢奕铨</tspan></text>
<text class="dt" y="515.9" fill="#000"><tspan x="-10.4 -2.6 5.2 13.0">2021</tspan><tspan x="28.6 36.4">08</tspan><tspan x="52.0 59.8">05</tspan></text>
<text class="hy" transform="translate(24.7,496.4) scale(1.85,0.9)">-</text>
<text class="hy" transform="translate(20.8,515.2) scale(1.85,0.9)">-</text>
<text class="hy" transform="translate(44.2,515.2) scale(1.85,0.9)">-</text>
<rect x="-35.9" y="660.7" width="121.2" height="44.2" fill="none" stroke="#000" stroke-width="3.2"/>
<text class="nb" y="679.7"><tspan x="-18.2 -2.6 13.0" fill="#000">陈翊均</tspan><tspan x="36.4 52.0 67.6" fill="#e00000">林士勋</tspan></text>
<text class="dt" y="697.9" fill="#000"><tspan x="-10.4 -2.6 5.2 13.0">2021</tspan><tspan x="28.6 36.4">08</tspan><tspan x="52.0 59.8">05</tspan></text>
<text class="hy" transform="translate(24.7,678.4) scale(1.85,0.9)">-</text>
<text class="hy" transform="translate(20.8,697.2) scale(1.85,0.9)">-</text>
<text class="hy" transform="translate(44.2,697.2) scale(1.85,0.9)">-</text>
<rect x="136.1" y="192.7" width="121.2" height="44.2" fill="none" stroke="#000" stroke-width="3.2"/>
<text class="nb" y="211.7"><tspan x="153.8 169.4 185.0" fill="#000">林彦丞</tspan><tspan x="208.4 224.0 239.6" fill="#e00000">许皓鋐</tspan></text>
<text class="dt" y="229.9" fill="#000"><tspan x="161.6 169.4 177.2 185.0">2021</tspan><tspan x="200.6 208.4">08</tspan><tspan x="224.0 231.8">08</tspan></text>
<text class="hy" transform="translate(196.7,210.4) scale(1.85,0.9)">-</text>
<text class="hy" transform="translate(192.8,229.2) scale(1.85,0.9)">-</text>
<text class="hy" transform="translate(216.2,229.2) scale(1.85,0.9)">-</text>
<rect x="136.1" y="582.7" width="121.2" height="44.2" fill="none" stroke="#000" stroke-width="3.2"/>
<text class="nb" y="601.7"><tspan x="153.8 169.4 185.0" fill="#e00000">卢奕铨</tspan><tspan x="208.4 224.0 239.6" fill="#000">林士勋</tspan></text>
<text class="dt" y="619.9" fill="#000"><tspan x="161.6 169.4 177.2 185.0">2021</tspan><tspan x="200.6 208.4">08</tspan><tspan x="224.0 231.8">08</tspan></text>
<text class="hy" transform="translate(196.7,600.4) scale(1.85,0.9)">-</text>
<text class="hy" transform="translate(192.8,619.2) scale(1.85,0.9)">-</text>
<text class="hy" transform="translate(216.2,619.2) scale(1.85,0.9)">-</text>
<rect x="17.1" y="946.7" width="121.2" height="44.2" fill="none" stroke="#000" stroke-width="3.2"/>
<text class="nb" y="965.7"><tspan x="34.8 50.4 66.0" fill="#000">卢钰桦</tspan><tspan x="89.4 105.0 120.6" fill="#e00000">蔡丞韦</tspan></text>
<text class="dt" y="983.9" fill="#000"><tspan x="42.6 50.4 58.2 66.0">2021</tspan><tspan x="81.6 89.4">05</tspan><tspan x="105.0 112.8">14</tspan></text>
<text class="hy" transform="translate(77.7,964.4) scale(1.85,0.9)">-</text>
<text class="hy" transform="translate(73.8,983.2) scale(1.85,0.9)">-</text>
<text class="hy" transform="translate(97.2,983.2) scale(1.85,0.9)">-</text>
<rect x="17.1" y="1102.7" width="121.2" height="44.2" fill="none" stroke="#000" stroke-width="3.2"/>
<text class="nb" y="1121.7"><tspan x="34.8 50.4 66.0" fill="#000">李奎汉</tspan><tspan x="89.4 105.0 120.6" fill="#e00000">陈首廉</tspan></text>
<text class="dt" y="1139.9" fill="#000"><tspan x="42.6 50.4 58.2 66.0">2021</tspan><tspan x="81.6 89.4">05</tspan><tspan x="105.0 112.8">07</tspan></text>
<text class="hy" transform="translate(77.7,1120.4) scale(1.85,0.9)">-</text>
<text class="hy" transform="translate(73.8,1139.2) scale(1.85,0.9)">-</text>
<text class="hy" transform="translate(97.2,1139.2) scale(1.85,0.9)">-</text>
<rect x="17.1" y="1154.7" width="121.2" height="44.2" fill="none" stroke="#000" stroke-width="3.2"/>
<text class="nb" y="1173.7"><tspan x="50.4 66.0 81.6" fill="#e00000">黄彦诚</tspan><tspan x="101.1 108.9" fill="#000" font-weight="400">NT</tspan></text>
<text class="hy" transform="translate(93.3,1172.4) scale(1.85,0.9)">-</text>
<rect x="17.1" y="1258.7" width="121.2" height="44.2" fill="none" stroke="#000" stroke-width="3.2"/>
<text class="nb" y="1277.7"><tspan x="34.8 50.4 66.0" fill="#e00000">牛诗特</tspan><tspan x="89.4 105.0 120.6" fill="#000">林立祥</tspan></text>
<text class="dt" y="1295.9" fill="#000"><tspan x="42.6 50.4 58.2 66.0">2021</tspan><tspan x="81.6 89.4">08</tspan><tspan x="105.0 112.8">05</tspan></text>
<text class="hy" transform="translate(77.7,1276.4) scale(1.85,0.9)">-</text>
<text class="hy" transform="translate(73.8,1295.2) scale(1.85,0.9)">-</text>
<text class="hy" transform="translate(97.2,1295.2) scale(1.85,0.9)">-</text>
<rect x="17.1" y="1310.7" width="121.2" height="44.2" fill="none" stroke="#000" stroke-width="3.2"/>
<text class="nb" y="1329.7"><tspan x="34.8 50.4 66.0" fill="#000">林宇翔</tspan><tspan x="89.4 105.0 120.6" fill="#e00000">许育祺</tspan></text>
<text class="dt" y="1347.9" fill="#000"><tspan x="42.6 50.4 58.2 66.0">2021</tspan><tspan x="81.6 89.4">08</tspan><tspan x="105.0 112.8">01</tspan></text>
<text class="hy" transform="translate(77.7,1328.4) scale(1.85,0.9)">-</text>
<text class="hy" transform="translate(73.8,1347.2) scale(1.85,0.9)">-</text>
<text class="hy" transform="translate(97.2,1347.2) scale(1.85,0.9)">-</text>
<rect x="189.1" y="920.7" width="121.2" height="44.2" fill="none" stroke="#000" stroke-width="3.2"/>
<text class="nb" y="939.7"><tspan x="214.6 230.2 245.8" fill="#000">蔡丞韦</tspan><tspan x="269.2 284.8" fill="#e00000">李维</tspan></text>
<text class="dt" y="957.9" fill="#000"><tspan x="214.6 222.4 230.2 238.0">2021</tspan><tspan x="253.6 261.4">08</tspan><tspan x="277.0 284.8">08</tspan></text>
<text class="hy" transform="translate(257.5,938.4) scale(1.85,0.9)">-</text>
<text class="hy" transform="translate(245.8,957.2) scale(1.85,0.9)">-</text>
<text class="hy" transform="translate(269.2,957.2) scale(1.85,0.9)">-</text>
<rect x="189.1" y="998.7" width="121.2" height="44.2" fill="none" stroke="#000" stroke-width="3.2"/>
<text class="nb" y="1017.7"><tspan x="206.8 222.4 238.0" fill="#000">彭景华</tspan><tspan x="261.4 277.0 292.6" fill="#e00000">许育祺</tspan></text>
<text class="dt" y="1035.9" fill="#000"><tspan x="214.6 222.4 230.2 238.0">2021</tspan><tspan x="253.6 261.4">05</tspan><tspan x="277.0 284.8">14</tspan></text>
<text class="hy" transform="translate(249.7,1016.4) scale(1.85,0.9)">-</text>
<text class="hy" transform="translate(245.8,1035.2) scale(1.85,0.9)">-</text>
<text class="hy" transform="translate(269.2,1035.2) scale(1.85,0.9)">-</text>
<rect x="189.1" y="1050.7" width="121.2" height="44.2" fill="none" stroke="#000" stroke-width="3.2"/>
<text class="nb" y="1069.7"><tspan x="214.6 230.2" fill="#000">高昀</tspan><tspan x="253.6 269.2 284.8" fill="#e00000">林立祥</tspan></text>
<text class="dt" y="1087.9" fill="#000"><tspan x="214.6 222.4 230.2 238.0">2021</tspan><tspan x="253.6 261.4">05</tspan><tspan x="277.0 284.8">14</tspan></text>
<text class="hy" transform="translate(241.9,1068.4) scale(1.85,0.9)">-</text>
<text class="hy" transform="translate(245.8,1087.2) scale(1.85,0.9)">-</text>
<text class="hy" transform="translate(269.2,1087.2) scale(1.85,0.9)">-</text>
<rect x="189.1" y="1128.7" width="121.2" height="44.2" fill="none" stroke="#000" stroke-width="3.2"/>
<text class="nb" y="1147.7"><tspan x="206.8 222.4 238.0" fill="#e00000">陈首廉</tspan><tspan x="261.4 277.0 292.6" fill="#000">黄彦诚</tspan></text>
<text class="dt" y="1165.9" fill="#000"><tspan x="214.6 222.4 230.2 238.0">2021</tspan><tspan x="253.6 261.4">05</tspan><tspan x="277.0 284.8">14</tspan></text>
<text class="hy" transform="translate(249.7,1146.4) scale(1.85,0.9)">-</text>
<text class="hy" transform="translate(245.8,1165.2) scale(1.85,0.9)">-</text>
<text class="hy" transform="translate(269.2,1165.2) scale(1.85,0.9)">-</text>
<rect x="189.1" y="1284.7" width="121.2" height="44.2" fill="none" stroke="#000" stroke-width="3.2"/>
<text class="nb" y="1303.7"><tspan x="206.8 222.4 238.0" fill="#000">许育祺</tspan><tspan x="261.4 277.0 292.6" fill="#e00000">牛诗特</tspan></text>
<text class="dt" y="1321.9" fill="#000"><tspan x="214.6 222.4 230.2 238.0">2021</tspan><tspan x="253.6 261.4">08</tspan><tspan x="277.0 284.8">08</tspan></text>
<text class="hy" transform="translate(249.7,1302.4) scale(1.85,0.9)">-</text>
<text class="hy" transform="translate(245.8,1321.2) scale(1.85,0.9)">-</text>
<text class="hy" transform="translate(269.2,1321.2) scale(1.85,0.9)">-</text>
<rect x="361.1" y="946.7" width="121.2" height="44.2" fill="none" stroke="#000" stroke-width="3.2"/>
<text class="nb" y="965.7"><tspan x="386.6 402.2" fill="#e00000">李维</tspan><tspan x="425.6 441.2 456.8" fill="#000">许育祺</tspan></text>
<text class="dt" y="983.9" fill="#000"><tspan x="386.6 394.4 402.2 410.0">2021</tspan><tspan x="425.6 433.4">08</tspan><tspan x="449.0 456.8">10</tspan></text>
<text class="hy" transform="translate(413.9,964.4) scale(1.85,0.9)">-</text>
<text class="hy" transform="translate(417.8,983.2) scale(1.85,0.9)">-</text>
<text class="hy" transform="translate(441.2,983.2) scale(1.85,0.9)">-</text>
<rect x="361.1" y="1102.7" width="121.2" height="44.2" fill="none" stroke="#000" stroke-width="3.2"/>
<text class="nb" y="1121.7"><tspan x="378.8 394.4 410.0" fill="#000">陈首廉</tspan><tspan x="433.4 449.0 464.6" fill="#e00000">林立祥</tspan></text>
<text class="dt" y="1139.9" fill="#000"><tspan x="386.6 394.4 402.2 410.0">2021</tspan><tspan x="425.6 433.4">08</tspan><tspan x="449.0 456.8">01</tspan></text>
<text class="hy" transform="translate(421.7,1120.4) scale(1.85,0.9)">-</text>
<text class="hy" transform="translate(417.8,1139.2) scale(1.85,0.9)">-</text>
<text class="hy" transform="translate(441.2,1139.2) scale(1.85,0.9)">-</text>
<rect x="361.1" y="1362.7" width="121.2" height="44.2" fill="none" stroke="#000" stroke-width="3.2"/>
<text class="nb" y="1381.7"><tspan x="378.8 394.4 410.0" fill="#000">林钰娗</tspan><tspan x="433.4 449.0 464.6" fill="#e00000">简靖庭</tspan></text>
<text class="dt" y="1399.9" fill="#000"><tspan x="386.6 394.4 402.2 410.0">2021</tspan><tspan x="425.6 433.4">05</tspan><tspan x="449.0 456.8">14</tspan></text>
<text class="hy" transform="translate(421.7,1380.4) scale(1.85,0.9)">-</text>
<text class="hy" transform="translate(417.8,1399.2) scale(1.85,0.9)">-</text>
<text class="hy" transform="translate(441.2,1399.2) scale(1.85,0.9)">-</text>
<rect x="532.9" y="374.7" width="121.2" height="44.2" fill="none" stroke="#000" stroke-width="3.2"/>
<text class="nb" y="393.7"><tspan x="550.6 566.2 581.8" fill="#000">卢奕铨</tspan><tspan x="605.2 620.8 636.4" fill="#e00000">许皓鋐</tspan></text>
<text class="dt" y="411.9" fill="#000"><tspan x="558.4 566.2 574.0 581.8">2021</tspan><tspan x="597.4 605.2">08</tspan><tspan x="620.8 628.6">10</tspan></text>
<text class="hy" transform="translate(593.5,392.4) scale(1.85,0.9)">-</text>
<text class="hy" transform="translate(589.6,411.2) scale(1.85,0.9)">-</text>
<text class="hy" transform="translate(613.0,411.2) scale(1.85,0.9)">-</text>
<rect x="532.9" y="1024.7" width="121.2" height="44.2" fill="none" stroke="#000" stroke-width="3.2"/>
<text class="nb" y="1043.7"><tspan x="558.4 574.0 589.6" fill="#000">林立祥</tspan><tspan x="613.0 628.6" fill="#e00000">李维</tspan></text>
<text class="dt" y="1061.9" fill="#000"><tspan x="558.4 566.2 574.0 581.8">2021</tspan><tspan x="597.4 605.2">08</tspan><tspan x="620.8 628.6">12</tspan></text>
<text class="hy" transform="translate(601.3,1042.4) scale(1.85,0.9)">-</text>
<text class="hy" transform="translate(589.6,1061.2) scale(1.85,0.9)">-</text>
<text class="hy" transform="translate(613.0,1061.2) scale(1.85,0.9)">-</text>
<rect x="532.9" y="1310.7" width="121.2" height="44.2" fill="none" stroke="#000" stroke-width="3.2"/>
<text class="nb" y="1329.7"><tspan x="550.6 566.2 581.8" fill="#e00000">牛诗特</tspan><tspan x="605.2 620.8 636.4" fill="#000">简靖庭</tspan></text>
<text class="dt" y="1347.9" fill="#000"><tspan x="558.4 566.2 574.0 581.8">2021</tspan><tspan x="597.4 605.2">08</tspan><tspan x="620.8 628.6">10</tspan></text>
<text class="hy" transform="translate(593.5,1328.4) scale(1.85,0.9)">-</text>
<text class="hy" transform="translate(589.6,1347.2) scale(1.85,0.9)">-</text>
<text class="hy" transform="translate(613.0,1347.2) scale(1.85,0.9)">-</text>
<rect x="930.1" y="790.7" width="121.2" height="44.2" fill="none" stroke="#000" stroke-width="3.2"/>
<text class="nb" y="809.7"><tspan x="963.4 979.0 994.6" fill="#e00000">陈诗渊</tspan><tspan x="1014.1 1021.9" fill="#000" font-weight="400">NT</tspan></text>
<text class="hy" transform="translate(1006.3,808.4) scale(1.85,0.9)">-</text>
<rect x="930.1" y="842.7" width="121.2" height="44.2" fill="none" stroke="#000" stroke-width="3.2"/>
<text class="nb" y="861.7"><tspan x="963.4 979.0 994.6" fill="#e00000">陈祈睿</tspan><tspan x="1014.1 1021.9" fill="#000" font-weight="400">NT</tspan></text>
<text class="hy" transform="translate(1006.3,860.4) scale(1.85,0.9)">-</text>
<rect x="930.1" y="1024.7" width="121.2" height="44.2" fill="none" stroke="#000" stroke-width="3.2"/>
<text class="nb" y="1043.7"><tspan x="955.6 971.2" fill="#000">李维</tspan><tspan x="994.6 1010.2 1025.8" fill="#e00000">卢奕铨</tspan></text>
<text class="dt" y="1061.9" fill="#000"><tspan x="955.6 963.4 971.2 979.0">2021</tspan><tspan x="994.6 1002.4">08</tspan><tspan x="1018.0 1025.8">13</tspan></text>
<text class="hy" transform="translate(982.9,1042.4) scale(1.85,0.9)">-</text>
<text class="hy" transform="translate(986.8,1061.2) scale(1.85,0.9)">-</text>
<text class="hy" transform="translate(1010.2,1061.2) scale(1.85,0.9)">-</text>
<rect x="930.1" y="1206.7" width="121.2" height="44.2" fill="none" stroke="#000" stroke-width="3.2"/>
<text class="nb" y="1225.7"><tspan x="963.4 979.0 994.6" fill="#e00000">王元均</tspan><tspan x="1014.1 1021.9" fill="#000" font-weight="400">NT</tspan></text>
<text class="hy" transform="translate(1006.3,1224.4) scale(1.85,0.9)">-</text>
<rect x="930.1" y="1336.7" width="121.2" height="44.2" fill="none" stroke="#000" stroke-width="3.2"/>
<text class="nb" y="1355.7"><tspan x="947.8 963.4 979.0" fill="#000">林君谚</tspan><tspan x="1002.4 1018.0 1033.6" fill="#e00000">简靖庭</tspan></text>
<text class="dt" y="1373.9" fill="#000"><tspan x="955.6 963.4 971.2 979.0">2021</tspan><tspan x="994.6 1002.4">08</tspan><tspan x="1018.0 1025.8">13</tspan></text>
<text class="hy" transform="translate(990.7,1354.4) scale(1.85,0.9)">-</text>
<text class="hy" transform="translate(986.8,1373.2) scale(1.85,0.9)">-</text>
<text class="hy" transform="translate(1010.2,1373.2) scale(1.85,0.9)">-</text>
<rect x="930.1" y="1518.7" width="121.2" height="44.2" fill="none" stroke="#000" stroke-width="3.2"/>
<text class="nb" y="1537.7"><tspan x="963.4 979.0 994.6" fill="#e00000">萧正浩</tspan><tspan x="1014.1 1021.9" fill="#000" font-weight="400">NT</tspan></text>
<text class="hy" transform="translate(1006.3,1536.4) scale(1.85,0.9)">-</text>
<rect x="1102.1" y="400.7" width="121.2" height="44.2" fill="none" stroke="#000" stroke-width="3.2"/>
<text class="nb" y="419.7"><tspan x="1119.8 1135.4 1151.0" fill="#000">陈诗渊</tspan><tspan x="1174.4 1190.0 1205.6" fill="#e00000">许皓鋐</tspan></text>
<text class="dt" y="437.9" fill="#000"><tspan x="1127.6 1135.4 1143.2 1151.0">2021</tspan><tspan x="1166.6 1174.4">08</tspan><tspan x="1190.0 1197.8">15</tspan></text>
<text class="hy" transform="translate(1162.7,418.4) scale(1.85,0.9)">-</text>
<text class="hy" transform="translate(1158.8,437.2) scale(1.85,0.9)">-</text>
<text class="hy" transform="translate(1182.2,437.2) scale(1.85,0.9)">-</text>
<rect x="1102.1" y="998.7" width="121.2" height="44.2" fill="none" stroke="#000" stroke-width="3.2"/>
<text class="nb" y="1017.7"><tspan x="1119.8 1135.4 1151.0" fill="#e00000">陈祈睿</tspan><tspan x="1174.4 1190.0 1205.6" fill="#000">卢奕铨</tspan></text>
<text class="dt" y="1035.9" fill="#000"><tspan x="1127.6 1135.4 1143.2 1151.0">2021</tspan><tspan x="1166.6 1174.4">08</tspan><tspan x="1190.0 1197.8">15</tspan></text>
<text class="hy" transform="translate(1162.7,1016.4) scale(1.85,0.9)">-</text>
<text class="hy" transform="translate(1158.8,1035.2) scale(1.85,0.9)">-</text>
<text class="hy" transform="translate(1182.2,1035.2) scale(1.85,0.9)">-</text>
<rect x="1102.1" y="1310.7" width="121.2" height="44.2" fill="none" stroke="#000" stroke-width="3.2"/>
<text class="nb" y="1329.7"><tspan x="1119.8 1135.4 1151.0" fill="#e00000">王元均</tspan><tspan x="1174.4 1190.0 1205.6" fill="#000">简靖庭</tspan></text>
<text class="dt" y="1347.9" fill="#000"><tspan x="1127.6 1135.4 1143.2 1151.0">2021</tspan><tspan x="1166.6 1174.4">08</tspan><tspan x="1190.0 1197.8">15</tspan></text>
<text class="hy" transform="translate(1162.7,1328.4) scale(1.85,0.9)">-</text>
<text class="hy" transform="translate(1158.8,1347.2) scale(1.85,0.9)">-</text>
<text class="hy" transform="translate(1182.2,1347.2) scale(1.85,0.9)">-</text>
<rect x="1102.1" y="1492.7" width="121.2" height="44.2" fill="none" stroke="#000" stroke-width="3.2"/>
<text class="nb" y="1511.7"><tspan x="1119.8 1135.4 1151.0" fill="#000">萧正浩</tspan><tspan x="1174.4 1190.0 1205.6" fill="#e00000">牛诗特</tspan></text>
<text class="dt" y="1529.9" fill="#000"><tspan x="1127.6 1135.4 1143.2 1151.0">2021</tspan><tspan x="1166.6 1174.4">08</tspan><tspan x="1190.0 1197.8">15</tspan></text>
<text class="hy" transform="translate(1162.7,1510.4) scale(1.85,0.9)">-</text>
<text class="hy" transform="translate(1158.8,1529.2) scale(1.85,0.9)">-</text>
<text class="hy" transform="translate(1182.2,1529.2) scale(1.85,0.9)">-</text>
<rect x="1449.1" y="582.7" width="121.2" height="44.2" fill="none" stroke="#000" stroke-width="3.2"/>
<text class="nb" y="601.7"><tspan x="1466.8 1482.4 1498.0" fill="#000">陈祈睿</tspan><tspan x="1521.4 1537.0 1552.6" fill="#e00000">许皓鋐</tspan></text>
<text class="dt" y="619.9" fill="#000"><tspan x="1474.6 1482.4 1490.2 1498.0">2021</tspan><tspan x="1513.6 1521.4">08</tspan><tspan x="1537.0 1544.8">17</tspan></text>
<text class="hy" transform="translate(1509.7,600.4) scale(1.85,0.9)">-</text>
<text class="hy" transform="translate(1505.8,619.2) scale(1.85,0.9)">-</text>
<text class="hy" transform="translate(1529.2,619.2) scale(1.85,0.9)">-</text>
<rect x="1449.1" y="1310.7" width="121.2" height="44.2" fill="none" stroke="#000" stroke-width="3.2"/>
<text class="nb" y="1329.7"><tspan x="1466.8 1482.4 1498.0" fill="#e00000">王元均</tspan><tspan x="1521.4 1537.0 1552.6" fill="#000">卢奕铨</tspan></text>
<text class="dt" y="1347.9" fill="#000"><tspan x="1474.6 1482.4 1490.2 1498.0">2021</tspan><tspan x="1513.6 1521.4">08</tspan><tspan x="1537.0 1544.8">17</tspan></text>
<text class="hy" transform="translate(1509.7,1328.4) scale(1.85,0.9)">-</text>
<text class="hy" transform="translate(1505.8,1347.2) scale(1.85,0.9)">-</text>
<text class="hy" transform="translate(1529.2,1347.2) scale(1.85,0.9)">-</text>
<rect x="1449.1" y="1492.7" width="121.2" height="44.2" fill="none" stroke="#000" stroke-width="3.2"/>
<text class="nb" y="1511.7"><tspan x="1466.8 1482.4 1498.0" fill="#000">牛诗特</tspan><tspan x="1521.4 1537.0 1552.6" fill="#e00000">陈诗渊</tspan></text>
<text class="dt" y="1529.9" fill="#000"><tspan x="1474.6 1482.4 1490.2 1498.0">2021</tspan><tspan x="1513.6 1521.4">08</tspan><tspan x="1537.0 1544.8">17</tspan></text>
<text class="hy" transform="translate(1509.7,1510.4) scale(1.85,0.9)">-</text>
<text class="hy" transform="translate(1505.8,1529.2) scale(1.85,0.9)">-</text>
<text class="hy" transform="translate(1529.2,1529.2) scale(1.85,0.9)">-</text>
<rect x="1449.1" y="1570.7" width="121.2" height="44.2" fill="none" stroke="#000" stroke-width="3.2"/>
<text class="nb" y="1589.7"><tspan x="1466.8 1482.4 1498.0" fill="#e00000">萧正浩</tspan><tspan x="1521.4 1537.0 1552.6" fill="#000">简靖庭</tspan></text>
<text class="dt" y="1607.9" fill="#000"><tspan x="1474.6 1482.4 1490.2 1498.0">2021</tspan><tspan x="1513.6 1521.4">08</tspan><tspan x="1537.0 1544.8">17</tspan></text>
<text class="hy" transform="translate(1509.7,1588.4) scale(1.85,0.9)">-</text>
<text class="hy" transform="translate(1505.8,1607.2) scale(1.85,0.9)">-</text>
<text class="hy" transform="translate(1529.2,1607.2) scale(1.85,0.9)">-</text>
<rect x="1771.1" y="712.7" width="121.2" height="44.2" fill="none" stroke="#000" stroke-width="2.7"/>
<text class="nr" y="731.7"><tspan x="1788.8 1804.4 1820.0" fill="#e6202a">许皓鋐</tspan><tspan x="1843.4 1859.0 1874.6" fill="#1a1a1a">王元均</tspan></text>
<text class="dt" y="749.9" fill="#000"><tspan x="1796.6 1804.4 1812.2 1820.0">2021</tspan><tspan x="1835.6 1843.4">08</tspan><tspan x="1859.0 1866.8">19</tspan></text>
<text class="hy" transform="translate(1831.7,730.4) scale(1.85,0.9)">-</text>
<text class="hy" transform="translate(1827.8,749.2) scale(1.85,0.9)">-</text>
<text class="hy" transform="translate(1851.2,749.2) scale(1.85,0.9)">-</text>
<rect x="1771.1" y="1492.7" width="121.2" height="44.2" fill="none" stroke="#000" stroke-width="3.2"/>
<text class="nb" y="1511.7"><tspan x="1788.8 1804.4 1820.0" fill="#e00000">陈祈睿</tspan><tspan x="1843.4 1859.0 1874.6" fill="#000">牛诗特</tspan></text>
<text class="dt" y="1529.9" fill="#000"><tspan x="1796.6 1804.4 1812.2 1820.0">2021</tspan><tspan x="1835.6 1843.4">08</tspan><tspan x="1859.0 1866.8">19</tspan></text>
<text class="hy" transform="translate(1831.7,1510.4) scale(1.85,0.9)">-</text>
<text class="hy" transform="translate(1827.8,1529.2) scale(1.85,0.9)">-</text>
<text class="hy" transform="translate(1851.2,1529.2) scale(1.85,0.9)">-</text>
<rect x="1771.1" y="1570.7" width="121.2" height="44.2" fill="none" stroke="#000" stroke-width="3.2"/>
<text class="nb" y="1589.7"><tspan x="1788.8 1804.4 1820.0" fill="#000">陈诗渊</tspan><tspan x="1843.4 1859.0 1874.6" fill="#e00000">萧正浩</tspan></text>
<text class="dt" y="1607.9" fill="#000"><tspan x="1796.6 1804.4 1812.2 1820.0">2021</tspan><tspan x="1835.6 1843.4">08</tspan><tspan x="1859.0 1866.8">19</tspan></text>
<text class="hy" transform="translate(1831.7,1588.4) scale(1.85,0.9)">-</text>
<text class="hy" transform="translate(1827.8,1607.2) scale(1.85,0.9)">-</text>
<text class="hy" transform="translate(1851.2,1607.2) scale(1.85,0.9)">-</text>
<rect x="1771.1" y="1622.7" width="121.2" height="44.2" fill="none" stroke="#000" stroke-width="3.2"/>
<text class="nb" y="1641.7"><tspan x="1788.8 1804.4 1820.0" fill="#000">卢奕铨</tspan><tspan x="1843.4 1859.0 1874.6" fill="#e00000">简靖庭</tspan></text>
<text class="dt" y="1659.9" fill="#000"><tspan x="1796.6 1804.4 1812.2 1820.0">2021</tspan><tspan x="1835.6 1843.4">08</tspan><tspan x="1859.0 1866.8">19</tspan></text>
<text class="hy" transform="translate(1831.7,1640.4) scale(1.85,0.9)">-</text>
<text class="hy" transform="translate(1827.8,1659.2) scale(1.85,0.9)">-</text>
<text class="hy" transform="translate(1851.2,1659.2) scale(1.85,0.9)">-</text>
<rect x="2067.8" y="764.7" width="121.2" height="44.2" fill="none" stroke="#000" stroke-width="2.1"/>
<text class="nr" y="783.7"><tspan x="2085.5 2101.1 2116.7" fill="#e6202a">王元均</tspan><tspan x="2140.1 2155.7 2171.3" fill="#1a1a1a">牛诗特</tspan></text>
<text class="dt" y="801.9" fill="#000"><tspan x="2093.3 2101.1 2108.9 2116.7">2021</tspan><tspan x="2132.3 2140.1">08</tspan><tspan x="2155.7 2163.5">22</tspan></text>
<text class="hy" transform="translate(2128.4,782.4) scale(1.85,0.9)">-</text>
<text class="hy" transform="translate(2124.5,801.2) scale(1.85,0.9)">-</text>
<text class="hy" transform="translate(2147.9,801.2) scale(1.85,0.9)">-</text>
<rect x="2067.8" y="1570.7" width="121.2" height="44.2" fill="none" stroke="#000" stroke-width="3.2"/>
<text class="nb" y="1589.7"><tspan x="2085.5 2101.1 2116.7" fill="#000">萧正浩</tspan><tspan x="2140.1 2155.7 2171.3" fill="#e00000">陈祈睿</tspan></text>
<text class="dt" y="1607.9" fill="#000"><tspan x="2093.3 2101.1 2108.9 2116.7">2021</tspan><tspan x="2132.3 2140.1">08</tspan><tspan x="2155.7 2163.5">22</tspan></text>
<text class="hy" transform="translate(2128.4,1588.4) scale(1.85,0.9)">-</text>
<text class="hy" transform="translate(2124.5,1607.2) scale(1.85,0.9)">-</text>
<text class="hy" transform="translate(2147.9,1607.2) scale(1.85,0.9)">-</text>
<rect x="2067.8" y="1622.7" width="121.2" height="44.2" fill="none" stroke="#000" stroke-width="3.2"/>
<text class="nb" y="1641.7"><tspan x="2085.5 2101.1 2116.7" fill="#000">陈诗渊</tspan><tspan x="2140.1 2155.7 2171.3" fill="#e00000">简靖庭</tspan></text>
<text class="dt" y="1659.9" fill="#000"><tspan x="2093.3 2101.1 2108.9 2116.7">2021</tspan><tspan x="2132.3 2140.1">08</tspan><tspan x="2155.7 2163.5">22</tspan></text>
<text class="hy" transform="translate(2128.4,1640.4) scale(1.85,0.9)">-</text>
<text class="hy" transform="translate(2124.5,1659.2) scale(1.85,0.9)">-</text>
<text class="hy" transform="translate(2147.9,1659.2) scale(1.85,0.9)">-</text>
<rect x="2067.8" y="1674.7" width="121.2" height="44.2" fill="none" stroke="#000" stroke-width="2.1"/>
<text class="nr" y="1693.7"><tspan x="2085.5 2101.1 2116.7" fill="#e6202a">卢奕铨</tspan><tspan x="2140.1 2155.7 2171.3" fill="#1a1a1a">许皓鋐</tspan></text>
<text class="dt" y="1711.9" fill="#000"><tspan x="2093.3 2101.1 2108.9 2116.7">2021</tspan><tspan x="2132.3 2140.1">08</tspan><tspan x="2155.7 2163.5">22</tspan></text>
<text class="hy" transform="translate(2128.4,1692.4) scale(1.85,0.9)">-</text>
<text class="hy" transform="translate(2124.5,1711.2) scale(1.85,0.9)">-</text>
<text class="hy" transform="translate(2147.9,1711.2) scale(1.85,0.9)">-</text>
<rect x="2339.8" y="790.7" width="121.2" height="44.2" fill="none" stroke="#000" stroke-width="2.1"/>
<text class="nr" y="809.7"><tspan x="2357.5 2373.1 2388.7" fill="#e6202a">王元均</tspan><tspan x="2412.1 2427.7 2443.3" fill="#1a1a1a">萧正浩</tspan></text>
<text class="dt" y="827.9" fill="#000"><tspan x="2365.3 2373.1 2380.9 2388.7">2021</tspan><tspan x="2404.3 2412.1">08</tspan><tspan x="2427.7 2435.5">24</tspan></text>
<text class="hy" transform="translate(2400.4,808.4) scale(1.85,0.9)">-</text>
<text class="hy" transform="translate(2396.5,827.2) scale(1.85,0.9)">-</text>
<text class="hy" transform="translate(2419.9,827.2) scale(1.85,0.9)">-</text>
<rect x="2339.8" y="1622.7" width="121.2" height="44.2" fill="none" stroke="#000" stroke-width="3.2"/>
<text class="nb" y="1641.7"><tspan x="2357.5 2373.1 2388.7" fill="#e00000">陈祈睿</tspan><tspan x="2412.1 2427.7 2443.3" fill="#000">陈诗渊</tspan></text>
<text class="dt" y="1659.9" fill="#000"><tspan x="2365.3 2373.1 2380.9 2388.7">2021</tspan><tspan x="2404.3 2412.1">08</tspan><tspan x="2427.7 2435.5">24</tspan></text>
<text class="hy" transform="translate(2400.4,1640.4) scale(1.85,0.9)">-</text>
<text class="hy" transform="translate(2396.5,1659.2) scale(1.85,0.9)">-</text>
<text class="hy" transform="translate(2419.9,1659.2) scale(1.85,0.9)">-</text>
<rect x="2339.8" y="1674.7" width="121.2" height="44.2" fill="none" stroke="#000" stroke-width="2.1"/>
<text class="nr" y="1693.7"><tspan x="2357.5 2373.1 2388.7" fill="#e6202a">简靖庭</tspan><tspan x="2412.1 2427.7 2443.3" fill="#1a1a1a">许皓鋐</tspan></text>
<text class="dt" y="1711.9" fill="#000"><tspan x="2365.3 2373.1 2380.9 2388.7">2021</tspan><tspan x="2404.3 2412.1">08</tspan><tspan x="2427.7 2435.5">24</tspan></text>
<text class="hy" transform="translate(2400.4,1692.4) scale(1.85,0.9)">-</text>
<text class="hy" transform="translate(2396.5,1711.2) scale(1.85,0.9)">-</text>
<text class="hy" transform="translate(2419.9,1711.2) scale(1.85,0.9)">-</text>
<rect x="2511.4" y="816.7" width="121.2" height="44.2" fill="none" stroke="#000" stroke-width="2.1"/>
<text class="nr" y="835.7"><tspan x="2529.1 2544.7 2560.3" fill="#e6202a">王元均</tspan><tspan x="2583.7 2599.3 2614.9" fill="#1a1a1a">陈诗渊</tspan></text>
<text class="dt" y="853.9" fill="#000"><tspan x="2536.9 2544.7 2552.5 2560.3">2021</tspan><tspan x="2575.9 2583.7">08</tspan><tspan x="2599.3 2607.1">26</tspan></text>
<text class="hy" transform="translate(2572.0,834.4) scale(1.85,0.9)">-</text>
<text class="hy" transform="translate(2568.1,853.2) scale(1.85,0.9)">-</text>
<text class="hy" transform="translate(2591.5,853.2) scale(1.85,0.9)">-</text>
<rect x="2511.4" y="1674.7" width="121.2" height="44.2" fill="none" stroke="#000" stroke-width="2.1"/>
<text class="nr" y="1693.7"><tspan x="2529.1 2544.7 2560.3" fill="#1a1a1a">简靖庭</tspan><tspan x="2583.7 2599.3 2614.9" fill="#e6202a">陈祈睿</tspan></text>
<text class="dt" y="1711.9" fill="#000"><tspan x="2536.9 2544.7 2552.5 2560.3">2021</tspan><tspan x="2575.9 2583.7">08</tspan><tspan x="2599.3 2607.1">26</tspan></text>
<text class="hy" transform="translate(2572.0,1692.4) scale(1.85,0.9)">-</text>
<text class="hy" transform="translate(2568.1,1711.2) scale(1.85,0.9)">-</text>
<text class="hy" transform="translate(2591.5,1711.2) scale(1.85,0.9)">-</text>
<rect x="2683.4" y="842.7" width="121.2" height="44.2" fill="none" stroke="#000" stroke-width="2.1"/>
<text class="nr" y="861.7"><tspan x="2701.1 2716.7 2732.3" fill="#1a1a1a">陈祈睿</tspan><tspan x="2755.7 2771.3 2786.9" fill="#e6202a">王元均</tspan></text>
<text class="dt" y="879.9" fill="#000"><tspan x="2708.9 2716.7 2724.5 2732.3">2021</tspan><tspan x="2747.9 2755.7">08</tspan><tspan x="2771.3 2779.1">29</tspan></text>
<text class="hy" transform="translate(2744.0,860.4) scale(1.85,0.9)">-</text>
<text class="hy" transform="translate(2740.1,879.2) scale(1.85,0.9)">-</text>
<text class="hy" transform="translate(2763.5,879.2) scale(1.85,0.9)">-</text>
<rect x="2683.4" y="1726.7" width="121.2" height="44.2" fill="none" stroke="#000" stroke-width="2.1"/>
<text class="nr" y="1745.7"><tspan x="2716.7 2732.3 2747.9" fill="#e6202a">赖均辅</tspan><tspan x="2767.4 2775.2" fill="#1a1a1a" font-weight="400">NT</tspan></text>
<text class="hy" transform="translate(2759.6,1744.4) scale(1.85,0.9)">-</text>
<rect x="2854.4" y="868.7" width="121.2" height="44.2" fill="none" stroke="#000" stroke-width="2.1"/>
<text class="nr" y="887.7"><tspan x="2872.1 2887.7 2903.3" fill="#1a1a1a">赖均辅</tspan><tspan x="2926.7 2942.3 2957.9" fill="#e6202a">王元均</tspan></text>
<text class="dt" y="905.9" fill="#000"><tspan x="2879.9 2887.7 2895.5 2903.3">2021</tspan><tspan x="2918.9 2926.7">10</tspan><tspan x="2942.3 2950.1">05</tspan></text>
<text class="hy" transform="translate(2915.0,886.4) scale(1.85,0.9)">-</text>
<text class="hy" transform="translate(2911.1,905.2) scale(1.85,0.9)">-</text>
<text class="hy" transform="translate(2934.5,905.2) scale(1.85,0.9)">-</text>
</svg>
</body></html>
